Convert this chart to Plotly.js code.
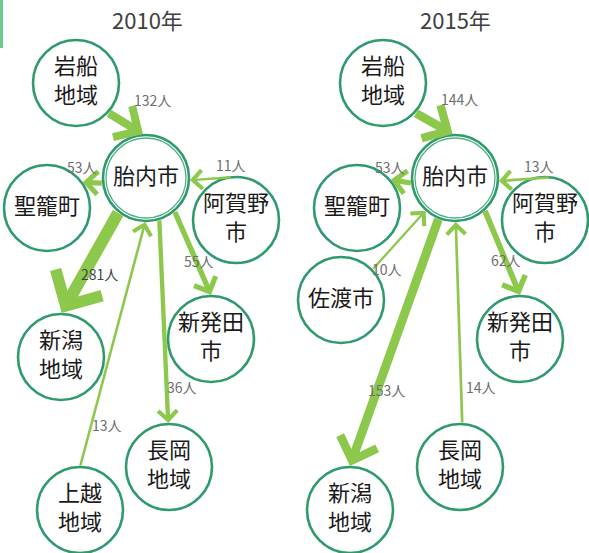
<!DOCTYPE html>
<html>
<head>
<meta charset="utf-8">
<script src="https://cdn.plot.ly/plotly-3.0.1.min.js"></script>
<style>html,body{margin:0;padding:0;background:#fff;}#chart{width:589px;height:553px;}</style>
</head>
<body>
<div id="chart"></div>
<script>
// ---- data ----
const years = ['2010年', '2015年'];
const unit = '人';
const hubName = '胎内市';

const nodes2010 = ['岩船地域', '胎内市', '聖籠町', '阿賀野市', '新潟地域', '新発田市', '長岡地域', '上越地域'];
const flowFrom2010 = ['岩船地域', '胎内市', '阿賀野市', '胎内市', '胎内市', '胎内市', '上越地域'];
const flowTo2010 = ['胎内市', '聖籠町', '胎内市', '新潟地域', '新発田市', '長岡地域', '胎内市'];
const flowValues2010 = [132, 53, 11, 281, 55, 36, 13];

const nodes2015 = ['岩船地域', '胎内市', '聖籠町', '阿賀野市', '佐渡市', '新発田市', '長岡地域', '新潟地域'];
const flowFrom2015 = ['岩船地域', '胎内市', '阿賀野市', '佐渡市', '胎内市', '胎内市', '長岡地域'];
const flowTo2015 = ['胎内市', '聖籠町', '胎内市', '胎内市', '新潟地域', '新発田市', '胎内市'];
const flowValues2015 = [144, 53, 13, 10, 153, 62, 14];

// ---- layout / style (positions of the diagram, not data) ----
const FONT = 'Noto Sans CJK JP, Noto Sans, sans-serif';
const lineBreaks = {'岩船地域': '岩船<br>地域', '阿賀野市': '阿賀野<br>市', '新潟地域': '新潟<br>地域',
  '新発田市': '新発田<br>市', '長岡地域': '長岡<br>地域', '上越地域': '上越<br>地域'};
const R = 43;
const panels = [
  { nodes: nodes2010, from: flowFrom2010, to: flowTo2010, values: flowValues2010,
    titlePos: [147, 19],
    pos: {'岩船地域': [76, 83], '胎内市': [146, 178], '聖籠町': [47, 208], '阿賀野市': [236, 220],
          '新潟地域': [61, 357], '新発田市': [211, 339], '長岡地域': [169, 467], '上越地域': [80, 510]},
    anchors: [[43, -94], [173, -36], [-95, 3], [129, -89], [49, -90], [72, -91], [-90, 91]],
    labelOff: [[27, -23], [-11, -16], [20, -14], [9, 12], [6, 8], [18, 66], [-6, 80]] },
  { nodes: nodes2015, from: flowFrom2015, to: flowTo2015, values: flowValues2015,
    titlePos: [455, 19],
    pos: {'岩船地域': [383, 83], '胎内市': [455, 178], '聖籠町': [357, 208], '阿賀野市': [545, 220],
          '佐渡市': [341, 300], '新発田市': [520, 339], '長岡地域': [460, 467], '新潟地域': [350, 510]},
    anchors: [[43, -93], [173, -40], [-83, 4], [-44, 132], [112, -90], [47, -90], [-87, 89]],
    labelOff: [[26, -24], [-12, -14], [14, -13], [-12, 29], [-8, 48], [4, 8], [22, 64]] }
];

const ringColor = '#2f9a6c';
const arrowColor = '#8cc84b';
const traces = [];
const annotations = [];
const shapes = [{type: 'rect', xref: 'x', yref: 'y', x0: 0, x1: 3, y0: 0, y1: 48,
  fillcolor: '#6acb8c', line: {width: 0}}];

panels.forEach((p, pi) => {
  const xs = p.nodes.map(n => p.pos[n][0]);
  const ys = p.nodes.map(n => p.pos[n][1]);
  traces.push({
    type: 'scatter', mode: 'markers+text', x: xs, y: ys,
    text: p.nodes.map(n => lineBreaks[n] || n),
    textposition: 'middle center',
    textfont: {family: FONT, size: 22, color: '#1a1a1a'},
    marker: {size: 86, color: '#ffffff', line: {color: ringColor, width: 2.6}},
    hoverinfo: 'skip', cliponaxis: false
  });
  // inner ring for hub
  traces.push({
    type: 'scatter', mode: 'markers', x: [p.pos[hubName][0]], y: [p.pos[hubName][1]],
    marker: {size: 80, color: 'rgba(0,0,0,0)', line: {color: '#4fb08a', width: 1.3}},
    hoverinfo: 'skip', cliponaxis: false
  });
  annotations.push({xref: 'x', yref: 'y', x: p.titlePos[0], y: p.titlePos[1], text: years[pi],
    showarrow: false, font: {family: FONT, size: 22, color: '#404040'}});

  const labels = [];
  p.values.forEach((v, i) => {
    const s = p.pos[p.from[i]], t = p.pos[p.to[i]];
    const a0 = p.anchors[i][0] * Math.PI / 180, a1 = p.anchors[i][1] * Math.PI / 180;
    const tail = [s[0] + R * Math.cos(a0), s[1] + R * Math.sin(a0)];
    const tip = [t[0] + (R + 1) * Math.cos(a1), t[1] + (R + 1) * Math.sin(a1)];
    const w = 0.72 * Math.sqrt(v);
    annotations.push({xref: 'x', yref: 'y', axref: 'x', ayref: 'y',
      x: tip[0], y: tip[1], ax: tail[0], ay: tail[1], text: '',
      showarrow: true, arrowhead: 4, arrowwidth: w, arrowsize: Math.max(0.85, 3.6 / w),
      arrowcolor: arrowColor, standoff: 0});
    labels.push({xref: 'x', yref: 'y',
      x: (tail[0] + tip[0]) / 2 + p.labelOff[i][0], y: (tail[1] + tip[1]) / 2 + p.labelOff[i][1],
      text: v + unit, showarrow: false,
      font: {family: FONT, size: 14, color: v > 200 ? '#444444' : '#6e6e6e'}});
  });
  annotations.push(...labels);
});

const layout = {
  width: 589, height: 553, margin: {l: 0, r: 0, t: 0, b: 0},
  paper_bgcolor: '#ffffff', plot_bgcolor: '#ffffff', showlegend: false,
  font: {family: FONT},
  xaxis: {range: [0, 589], visible: false, fixedrange: true},
  yaxis: {range: [553, 0], visible: false, fixedrange: true},
  shapes: shapes, annotations: annotations
};
Plotly.newPlot('chart', traces, layout, {displayModeBar: false, staticPlot: true});
</script>
</body>
</html>
